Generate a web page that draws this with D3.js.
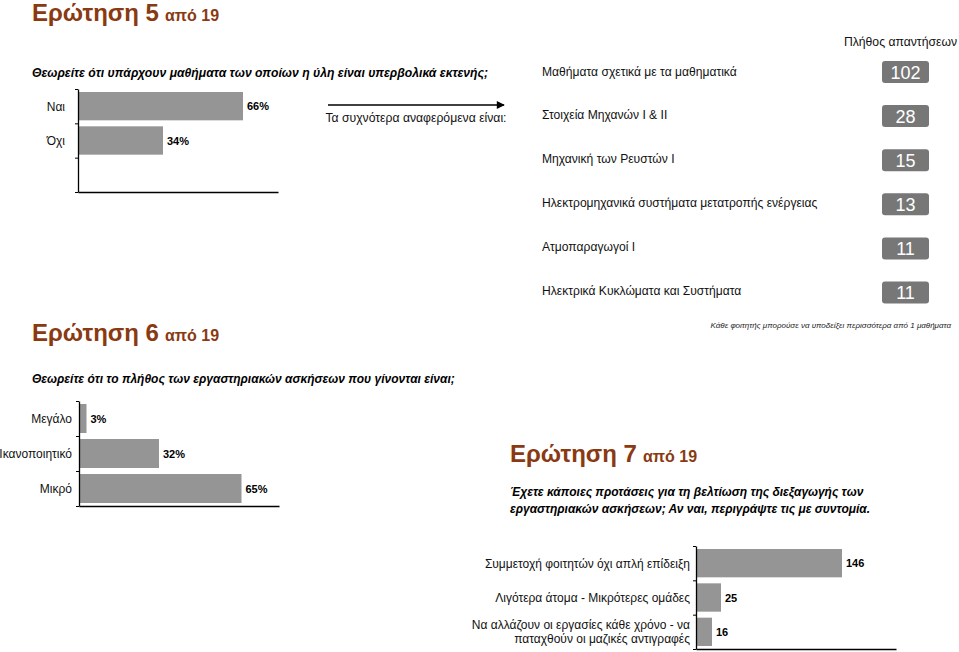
<!DOCTYPE html>
<html><head><meta charset="utf-8">
<script src="https://cdn.jsdelivr.net/npm/d3@7/dist/d3.min.js"></script>
<style>
html,body{margin:0;padding:0;background:#fff;}
svg{display:block;font-family:"Liberation Sans",Arial,sans-serif;}
</style></head>
<body>
<svg id="c" width="959" height="652"></svg>
<script>
// ---- data ----
const q5Categories = ["Ναι", "Όχι", ""];
const q5Values = [66, 34, null];
const q5Courses = ["Μαθήματα σχετικά με τα μαθηματικά", "Στοιχεία Μηχανών Ι & ΙΙ", "Μηχανική των Ρευστών Ι",
  "Ηλεκτρομηχανικά συστήματα μετατροπής ενέργειας", "Ατμοπαραγωγοί  Ι", "Ηλεκτρικά Κυκλώματα και Συστήματα"];
const q5Counts = [102, 28, 15, 13, 11, 11];
const q6Categories = ["Μεγάλο", "Ικανοποιητικό", "Μικρό"];
const q6Values = [3, 32, 65];
const q7Categories = [["Συμμετοχή φοιτητών όχι απλή επίδειξη"], ["Λιγότερα άτομα - Μικρότερες ομάδες"],
  ["Να αλλάζουν οι εργασίες κάθε χρόνο - να", "παταχθούν οι μαζικές αντιγραφές"]];
const q7Values = [146, 25, 16];

const svg = d3.select("#c");
const brown = "#8a3a12";
const barColor = "#959595";

function title(x, y, num) {
  const t = svg.append("text").attr("x", x).attr("y", y).attr("fill", brown).attr("font-weight", "bold");
  t.append("tspan").attr("font-size", 24).text("Ερώτηση " + num);
  t.append("tspan").attr("font-size", 16).attr("dx", 6).text("από 19");
}
function question(x, y, lines, fs) {
  lines.forEach((l, i) => svg.append("text").attr("x", x).attr("y", y + i * 17)
    .attr("font-size", fs).attr("font-weight", "bold").attr("font-style", "italic").attr("fill", "#000").text(l));
}

function barChart(opts) {
  const {cats, vals, x0, x1, y0, y1, max, labelGap, fmt, labelOf} = opts;
  const y = d3.scaleBand().domain(d3.range(cats.length)).range([y0, y1]);
  const x = d3.scaleLinear().domain([0, max]).range([x0, x1]);
  const g = svg.append("g");
  vals.forEach((v, i) => {
    if (v == null) return;
    g.append("rect").attr("x", x(0)).attr("y", y(i) + 3).attr("width", x(v) - x(0))
      .attr("height", y.bandwidth() - 6).attr("fill", barColor);
    g.append("text").attr("x", x(v) + 4).attr("y", y(i) + y.bandwidth() / 2 + 4)
      .attr("font-size", 11).attr("font-weight", "bold").text(fmt(v));
  });
  const tickScale = d3.scaleLinear().domain([0, cats.length]).range([y0, y1]);
  g.append("g").attr("transform", `translate(${x0},0)`)
    .call(d3.axisLeft(tickScale).ticks(cats.length).tickFormat("").tickSize(3).tickSizeOuter(0))
    .call(a => a.select(".domain").attr("stroke", "#000").attr("stroke-width", 1.3))
    .call(a => a.selectAll(".tick line").attr("stroke", "#000"));
  g.append("g").attr("transform", `translate(0,${y1})`)
    .call(d3.axisBottom(x).tickValues([]).tickSizeOuter(0))
    .call(a => a.select(".domain").attr("stroke", "#000").attr("stroke-width", 1.3));
  cats.forEach((c, i) => {
    const lines = labelOf ? labelOf(c) : [c];
    const cy = y(i) + y.bandwidth() / 2;
    lines.forEach((l, k) => g.append("text").attr("x", x0 - labelGap)
      .attr("y", cy + 4.5 + (k - (lines.length - 1) / 2) * 14)
      .attr("text-anchor", "end").attr("font-size", 12).attr("fill", "#111").text(l));
  });
}

// ---- Question 5 ----
title(32, 21, 5);
question(32, 77, ["Θεωρείτε ότι υπάρχουν μαθήματα των οποίων η ύλη είναι υπερβολικά εκτενής;"], 12.2);
barChart({cats: q5Categories, vals: q5Values, x0: 78, x1: 278, y0: 89, y1: 192, max: 80, labelGap: 13,
  fmt: v => v + "%"});

svg.append("defs").append("marker").attr("id", "ah").attr("viewBox", "0 0 10 10").attr("refX", 9).attr("refY", 5)
  .attr("markerWidth", 10).attr("markerHeight", 8).attr("markerUnits", "userSpaceOnUse").attr("orient", "auto")
  .append("path").attr("d", "M0,0L10,5L0,10Z").attr("fill", "#000");
svg.append("line").attr("x1", 328).attr("x2", 504).attr("y1", 105).attr("y2", 105)
  .attr("stroke", "#000").attr("stroke-width", 1.3).attr("marker-end", "url(#ah)");
svg.append("text").attr("x", 416).attr("y", 122).attr("text-anchor", "middle").attr("font-size", 12.2)
  .attr("fill", "#111").text("Τα συχνότερα αναφερόμενα είναι:");

svg.append("text").attr("x", 957).attr("y", 46).attr("text-anchor", "end").attr("font-size", 12.2)
  .attr("fill", "#111").text("Πλήθος απαντήσεων");
const ly = d3.scalePoint().domain(d3.range(q5Courses.length)).range([71, 290]);
q5Courses.forEach((c, i) => {
  svg.append("text").attr("x", 542).attr("y", ly(i) + 4.5).attr("font-size", 12.1).attr("fill", "#111").text(c);
  const cy = ly(i) + 1 + i * 0.3;
  svg.append("rect").attr("x", 882).attr("y", cy - 11).attr("width", 47).attr("height", 22)
    .attr("rx", 3).attr("fill", "#777777");
  svg.append("text").attr("x", 905.5).attr("y", cy + 6.5).attr("text-anchor", "middle")
    .attr("font-size", 18).attr("fill", "#fff").text(q5Counts[i]);
});
svg.append("text").attr("x", 951).attr("y", 328).attr("text-anchor", "end").attr("font-size", 8)
  .attr("font-style", "italic").attr("fill", "#222")
  .text("Κάθε φοιτητής μπορούσε να υποδείξει περισσότερα από 1 μαθήματα");

// ---- Question 6 ----
title(32, 341, 6);
question(32, 383, ["Θεωρείτε ότι το πλήθος των εργαστηριακών ασκήσεων που γίνονται είναι;"], 12);
barChart({cats: q6Categories, vals: q6Values, x0: 79, x1: 279, y0: 401, y1: 506, max: 80, labelGap: 7,
  fmt: v => v + "%"});

// ---- Question 7 ----
title(510, 462, 7);
question(510, 496, ["Έχετε κάποιες προτάσεις για τη βελτίωση της διεξαγωγής των",
  "εργαστηριακών ασκήσεων; Αν ναι, περιγράψτε τις με συντομία."], 12);
barChart({cats: q7Categories, vals: q7Values, x0: 696, x1: 896, y0: 546, y1: 649, max: 200, labelGap: 6,
  fmt: v => v, labelOf: c => c});
</script>
</body></html>
